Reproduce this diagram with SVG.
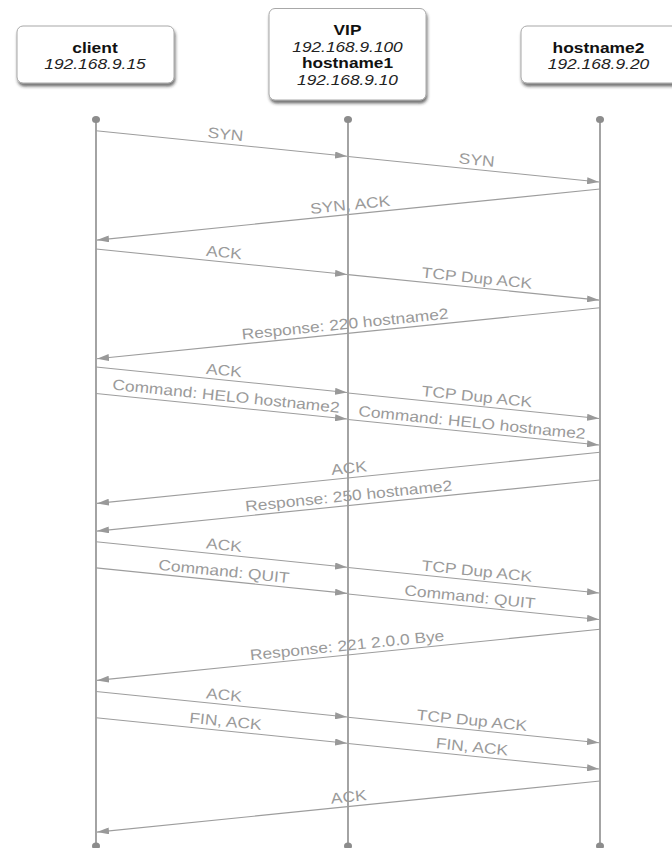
<svg xmlns="http://www.w3.org/2000/svg" width="672" height="848" viewBox="0 0 672 848">
<style>
.box{fill:#fff;stroke:#a8a8a8;stroke-width:1}
.bt{font-family:"Liberation Sans",Arial,sans-serif;font-size:15px;font-weight:bold;fill:#111;text-anchor:middle}
.it{font-family:"Liberation Sans",Arial,sans-serif;font-size:15px;font-style:italic;fill:#222;text-anchor:middle}
.sm{font-size:14.4px}
.life{stroke:#9a9a9a;stroke-width:1.8;fill:none}
.dot{fill:#8c8c8c}
.msg{stroke:#9d9d9d;stroke-width:1.1;fill:none;marker-end:url(#ah)}
.lbl{font-family:"Liberation Sans",Arial,sans-serif;font-size:15px;fill:#9a9a9a;text-anchor:middle}
</style>
<defs>
<filter id="sh" x="-10%" y="-10%" width="125%" height="135%">
<feDropShadow dx="1" dy="3" stdDeviation="1.6" flood-color="#222" flood-opacity="0.65"/>
</filter>
<marker id="ah" markerWidth="12" markerHeight="7" refX="12" refY="3.5" orient="auto" markerUnits="userSpaceOnUse">
<path d="M0,0 L12,3.5 L0,7 z" fill="#999"/>
</marker>
</defs>
<rect width="672" height="848" fill="#fff"/>

<g id="client">
<rect class="box" x="17" y="26" width="157" height="57" rx="6" filter="url(#sh)"/>
<text class="bt" transform="translate(95,52.7) scale(1.16,1)">client</text>
<text class="it" transform="translate(95,68.5) scale(1.16,1)">192.168.9.15</text>
<line class="life" x1="96" y1="119.5" x2="96" y2="846"/>
<ellipse class="dot" cx="96" cy="119.5" rx="4" ry="3.6"/>
<ellipse class="dot" cx="96" cy="846" rx="4" ry="3.6"/>
</g>

<g id="vip">
<rect class="box" x="269" y="8.5" width="157" height="91.5" rx="6" filter="url(#sh)"/>
<text class="bt sm" transform="translate(347.5,35) scale(1.2,1)">VIP</text>
<text class="it sm" transform="translate(347.5,51.5) scale(1.2,1)">192.168.9.100</text>
<text class="bt sm" transform="translate(347.5,68) scale(1.2,1)">hostname1</text>
<text class="it sm" transform="translate(347.5,84.5) scale(1.2,1)">192.168.9.10</text>
<line class="life" x1="348" y1="119.5" x2="348" y2="846"/>
<ellipse class="dot" cx="348" cy="119.5" rx="4" ry="3.6"/>
<ellipse class="dot" cx="348" cy="846" rx="4" ry="3.6"/>
</g>

<g id="hostname2">
<rect class="box" x="521" y="26" width="157" height="57" rx="6" filter="url(#sh)"/>
<text class="bt" transform="translate(598.5,52.7) scale(1.16,1)">hostname2</text>
<text class="it" transform="translate(598.5,68.5) scale(1.16,1)">192.168.9.20</text>
<line class="life" x1="600" y1="119.5" x2="600" y2="846"/>
<ellipse class="dot" cx="600" cy="119.5" rx="4" ry="3.6"/>
<ellipse class="dot" cx="600" cy="846" rx="4" ry="3.6"/>
</g>

<g id="connectors">
<line class="msg" x1="96" y1="130.7" x2="347" y2="156.2"/>
<line class="msg" x1="348" y1="156.5" x2="599" y2="182"/>
<line class="msg" x1="600" y1="189" x2="97" y2="240.1"/>
<line class="msg" x1="96" y1="249" x2="347" y2="274.5"/>
<line class="msg" x1="348" y1="274.6" x2="599" y2="300.1"/>
<line class="msg" x1="600" y1="307.7" x2="97" y2="358.8"/>
<line class="msg" x1="96" y1="367" x2="347" y2="392.5"/>
<line class="msg" x1="96" y1="393.5" x2="347" y2="419"/>
<line class="msg" x1="348" y1="393" x2="599" y2="418.5"/>
<line class="msg" x1="348" y1="419.5" x2="599" y2="445"/>
<line class="msg" x1="600" y1="452.3" x2="97" y2="503.4"/>
<line class="msg" x1="600" y1="480" x2="97" y2="531.1"/>
<line class="msg" x1="96" y1="541.7" x2="347" y2="567.2"/>
<line class="msg" x1="96" y1="567.9" x2="347" y2="593.4"/>
<line class="msg" x1="348" y1="567.5" x2="599" y2="593"/>
<line class="msg" x1="348" y1="594" x2="599" y2="619.5"/>
<line class="msg" x1="600" y1="629.3" x2="97" y2="680.4"/>
<line class="msg" x1="96" y1="691.5" x2="347" y2="717"/>
<line class="msg" x1="96" y1="717.7" x2="347" y2="743.2"/>
<line class="msg" x1="348" y1="717.3" x2="599" y2="742.8"/>
<line class="msg" x1="348" y1="743.5" x2="599" y2="769"/>
<line class="msg" x1="600" y1="781" x2="97" y2="832.1"/>

<g class="lbl">
<text transform="translate(224.6,143.8) rotate(5.8) scale(1.16,1)" y="-4.5">SYN</text>
<text transform="translate(475.7,169.5) rotate(5.8) scale(1.16,1)" y="-4.5">SYN</text>
<text transform="translate(351,214.3) rotate(-5.8) scale(1.16,1)" y="-4.5">SYN, ACK</text>
<text transform="translate(223,261.9) rotate(5.8) scale(1.16,1)" y="-4.5">ACK</text>
<text transform="translate(476,287.6) rotate(5.8) scale(1.16,1)" y="-4.5">TCP Dup ACK</text>
<text transform="translate(346,333.5) rotate(-5.8) scale(1.16,1)" y="-4.5">Response: 220 hostname2</text>
<text transform="translate(223,379.9) rotate(5.8) scale(1.16,1)" y="-4.5">ACK</text>
<text transform="translate(225,406.6) rotate(5.8) scale(1.16,1)" y="-5.5">Command: HELO hostname2</text>
<text transform="translate(476,406) rotate(5.8) scale(1.16,1)" y="-4.5">TCP Dup ACK</text>
<text transform="translate(471,432) rotate(5.8) scale(1.16,1)" y="-4.5">Command: HELO hostname2</text>
<text transform="translate(350,477.7) rotate(-5.8) scale(1.16,1)" y="-4.5">ACK</text>
<text transform="translate(349.6,505.4) rotate(-5.8) scale(1.16,1)" y="-4.5">Response: 250 hostname2</text>
<text transform="translate(223,554.6) rotate(5.8) scale(1.16,1)" y="-4.5">ACK</text>
<text transform="translate(223,580.8) rotate(5.8) scale(1.16,1)" y="-4.5">Command: QUIT</text>
<text transform="translate(476,580.5) rotate(5.8) scale(1.16,1)" y="-4.5">TCP Dup ACK</text>
<text transform="translate(469,606.3) rotate(5.8) scale(1.16,1)" y="-4.5">Command: QUIT</text>
<text transform="translate(348,654.9) rotate(-5.8) scale(1.16,1)" y="-4.5">Response: 221 2.0.0 Bye</text>
<text transform="translate(223,704.4) rotate(5.8) scale(1.16,1)" y="-4.5">ACK</text>
<text transform="translate(224.6,730.8) rotate(5.8) scale(1.16,1)" y="-4.5">FIN, ACK</text>
<text transform="translate(471,729.9) rotate(5.8) scale(1.16,1)" y="-4.5">TCP Dup ACK</text>
<text transform="translate(471,756.2) rotate(5.8) scale(1.16,1)" y="-4.5">FIN, ACK</text>
<text transform="translate(349.6,806.4) rotate(-5.8) scale(1.16,1)" y="-4.5">ACK</text>
</g>
</g>
</svg>
